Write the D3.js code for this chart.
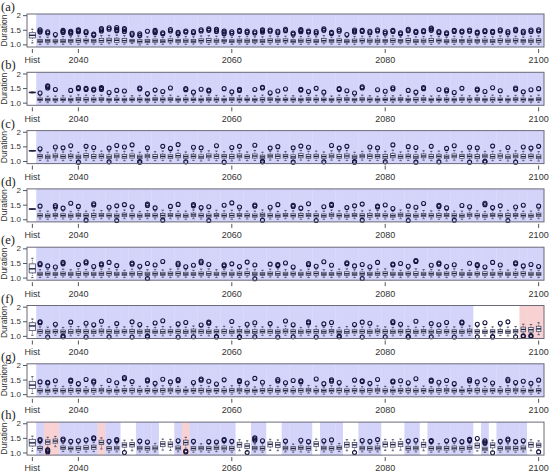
<!DOCTYPE html>
<html>
<head>
<meta charset="utf-8">
<script src="https://cdn.jsdelivr.net/npm/d3@7"></script>
<style>
  body { margin: 0; background: #fff; }
  svg text { font-family: "Liberation Sans", Arial, sans-serif; }
</style>
</head>
<body>
<div id="chart"></div>
<script>
// categories: historical reference + projection years
let years = d3.range(2035, 2101).map(String)
let categories = ["Hist"].concat(years)
let xTickLabels = ["Hist", "2040", "2060", "2080", "2100"]
let yTickValues = [1.0, 1.5, 2]
let panelNames = ["(a)", "(b)", "(c)", "(d)", "(e)", "(f)", "(g)", "(h)"]

// each row: [lower whisker, Q1, median, Q3, upper whisker, ...outliers]
let boxesA = [
  [1.05,1.22,1.31,1.40,1.52],
  [1.00,1.06,1.11,1.17,1.26,1.42,1.46,1.50],[1.01,1.07,1.12,1.17,1.25,1.39,1.43],[1.02,1.07,1.11,1.16,1.24,1.34],[1.00,1.06,1.11,1.17,1.27,1.41,1.45,1.48],[1.01,1.07,1.12,1.17,1.26,1.38,1.42,1.45],
  [1.00,1.07,1.13,1.19,1.29,1.43,1.47,1.50],[1.02,1.08,1.13,1.18,1.27,1.40,1.44],[1.01,1.07,1.12,1.17,1.24,1.31,1.35],[1.00,1.07,1.13,1.20,1.30,1.46,1.50,1.54],[1.02,1.08,1.14,1.21,1.31,1.52,1.57],
  [1.00,1.07,1.14,1.21,1.32,1.47,1.52,1.58],[1.01,1.07,1.13,1.20,1.30,1.44,1.50,1.54],[1.03,1.08,1.12,1.17,1.25,1.33,1.38],[0.98,1.05,1.10,1.16,1.24,1.30,1.36],[1.00,1.06,1.11,1.17,1.26,1.45],
  [1.01,1.07,1.12,1.18,1.27,1.40,1.44,1.48],[1.00,1.06,1.11,1.16,1.24,1.36,1.40],[1.02,1.08,1.13,1.19,1.28,1.46,1.51],[1.01,1.07,1.12,1.17,1.25,1.36,1.41],[1.00,1.07,1.12,1.18,1.27,1.42,1.46],
  [1.01,1.06,1.11,1.17,1.26,1.40,1.44],[1.02,1.08,1.13,1.19,1.29,1.46,1.50],[1.00,1.07,1.13,1.20,1.30,1.48,1.53],[1.01,1.07,1.12,1.18,1.28,1.44,1.49,1.52],[1.03,1.08,1.12,1.17,1.24,1.36,1.42,1.46],
  [1.00,1.06,1.11,1.16,1.25,1.38,1.43],[1.01,1.07,1.12,1.18,1.27,1.44,1.48],[1.00,1.06,1.12,1.18,1.28,1.41,1.46],[1.02,1.07,1.12,1.17,1.26,1.39,1.43],[1.00,1.06,1.11,1.17,1.26,1.42,1.47,1.50],
  [1.01,1.07,1.13,1.19,1.29,1.45,1.49],[1.00,1.07,1.12,1.18,1.27,1.40,1.45],[1.02,1.08,1.13,1.19,1.28,1.47,1.52],[1.01,1.06,1.11,1.16,1.24,1.35,1.39],[1.00,1.07,1.12,1.18,1.27,1.43,1.47,1.51],
  [1.01,1.07,1.13,1.19,1.28,1.42,1.46],[1.00,1.06,1.11,1.17,1.26,1.39,1.44],[1.02,1.08,1.13,1.20,1.30,1.48,1.53],[1.01,1.07,1.12,1.17,1.25,1.37,1.41],[1.00,1.07,1.13,1.19,1.29,1.45,1.50],
  [1.01,1.06,1.11,1.16,1.24,1.34],[1.00,1.07,1.12,1.18,1.27,1.42,1.46,1.49],[1.02,1.08,1.13,1.19,1.28,1.44,1.48],[1.01,1.07,1.12,1.18,1.27,1.40,1.45],[1.00,1.06,1.12,1.18,1.28,1.46,1.50],
  [1.01,1.07,1.12,1.17,1.26,1.38,1.43],[1.00,1.07,1.13,1.19,1.29,1.44,1.48],[1.02,1.07,1.12,1.17,1.25,1.36,1.40],[1.01,1.07,1.13,1.20,1.30,1.47,1.52],[1.00,1.06,1.11,1.17,1.26,1.41,1.45],
  [1.01,1.07,1.12,1.18,1.27,1.43,1.47],[1.00,1.07,1.13,1.20,1.30,1.48,1.53,1.56],[1.02,1.08,1.13,1.18,1.27,1.40,1.44],[1.01,1.06,1.11,1.16,1.24,1.36,1.40],[1.00,1.07,1.12,1.18,1.28,1.44,1.48],
  [1.01,1.07,1.12,1.17,1.26,1.42,1.46],[1.00,1.06,1.12,1.18,1.27,1.45,1.49],[1.02,1.07,1.12,1.17,1.25,1.38,1.42],[1.01,1.07,1.12,1.18,1.27,1.43,1.47],[1.00,1.06,1.11,1.17,1.26,1.41,1.45],
  [1.01,1.07,1.13,1.19,1.29,1.46,1.50],[1.00,1.07,1.12,1.18,1.27,1.39,1.44],[1.02,1.08,1.13,1.19,1.28,1.47,1.52],[1.01,1.07,1.12,1.17,1.25,1.40,1.45],[1.00,1.06,1.12,1.18,1.28,1.44,1.49],
  [1.01,1.07,1.13,1.19,1.29,1.46,1.50]
]

let boxesB = [
  [1.33,1.34,1.35,1.36,1.37],
  [1.02,1.07,1.11,1.16,1.24,1.33],[1.00,1.06,1.10,1.15,1.22,1.50,1.55,1.58],[1.01,1.06,1.10,1.15,1.23,1.45],[1.02,1.07,1.11,1.16,1.24],[1.00,1.06,1.10,1.15,1.23,1.42],
  [1.01,1.07,1.12,1.18,1.27,1.48,1.52],[1.00,1.06,1.11,1.17,1.26,1.45,1.49],[1.01,1.06,1.11,1.16,1.25,1.43,1.47],[1.02,1.07,1.12,1.17,1.26,1.45,1.49,1.52],[1.00,1.06,1.10,1.15,1.23,1.35],
  [1.01,1.07,1.11,1.16,1.24,1.42],[1.00,1.06,1.10,1.15,1.23,1.40],[1.02,1.07,1.11,1.16,1.24],[1.01,1.06,1.11,1.16,1.25,1.47,1.50],[1.00,1.06,1.10,1.15,1.22,1.31],
  [1.01,1.07,1.12,1.17,1.25,1.43],[1.00,1.06,1.11,1.16,1.24,1.38],[1.02,1.07,1.12,1.17,1.26,1.50],[1.01,1.06,1.10,1.15,1.22],[1.00,1.06,1.11,1.16,1.25,1.44,1.48],
  [1.01,1.07,1.11,1.16,1.24,1.36],[1.00,1.06,1.10,1.15,1.23,1.46],[1.02,1.07,1.12,1.17,1.26,1.40,1.43],[1.01,1.06,1.11,1.16,1.25],[1.00,1.06,1.10,1.15,1.23,1.48],
  [1.01,1.07,1.12,1.17,1.26,1.37],[1.00,1.06,1.11,1.16,1.24,1.42,1.46],[1.02,1.07,1.11,1.16,1.24],[1.01,1.06,1.10,1.15,1.23,1.45],[1.00,1.06,1.11,1.17,1.26,1.50,1.53],
  [1.01,1.07,1.12,1.17,1.25,1.34],[1.00,1.06,1.10,1.15,1.22,1.40],[1.02,1.07,1.11,1.16,1.25,1.47],[1.01,1.06,1.11,1.16,1.24],[1.00,1.06,1.10,1.15,1.23,1.43,1.46],
  [1.01,1.07,1.12,1.17,1.26,1.38],[1.00,1.06,1.11,1.16,1.25,1.49],[1.02,1.07,1.11,1.16,1.24,1.36],[1.01,1.06,1.10,1.15,1.23],[1.00,1.06,1.11,1.17,1.26,1.45,1.48],
  [1.01,1.07,1.12,1.17,1.25,1.41],[1.00,1.06,1.10,1.15,1.23,1.33],[1.02,1.07,1.12,1.17,1.26,1.50,1.54],[1.01,1.06,1.11,1.16,1.24],[1.00,1.06,1.10,1.15,1.22,1.44],
  [1.01,1.07,1.11,1.16,1.25,1.39],[1.00,1.06,1.11,1.16,1.24,1.47,1.51],[1.02,1.07,1.12,1.17,1.26],[1.01,1.06,1.10,1.15,1.23,1.42],[1.00,1.06,1.11,1.17,1.26,1.36],
  [1.01,1.07,1.12,1.17,1.25,1.48,1.52],[1.00,1.06,1.10,1.15,1.23],[1.02,1.07,1.11,1.16,1.24,1.45],[1.01,1.06,1.11,1.16,1.25,1.40,1.44],[1.00,1.06,1.10,1.15,1.22,1.35],
  [1.01,1.07,1.12,1.17,1.26,1.49],[1.00,1.06,1.11,1.16,1.24],[1.02,1.07,1.12,1.17,1.26,1.43,1.47],[1.01,1.06,1.10,1.15,1.23,1.38],[1.00,1.06,1.11,1.17,1.26,1.51],
  [1.01,1.07,1.11,1.16,1.24,1.41],[1.00,1.06,1.10,1.15,1.23],[1.02,1.07,1.12,1.17,1.25,1.46,1.50],[1.01,1.06,1.11,1.16,1.24,1.37],[1.00,1.06,1.10,1.15,1.23,1.44],
  [1.01,1.07,1.12,1.17,1.26,1.48]
]

let boxesC = [
  [1.34,1.35,1.35,1.36,1.36],
  [1.02,1.10,1.16,1.22,1.32,1.42],[1.00,1.08,1.14,1.20,1.30],[1.03,1.11,1.17,1.24,1.35,1.48],[1.01,1.09,1.15,1.21,1.31,1.45],[1.02,1.10,1.16,1.23,1.34,1.52],
  [1.00,1.08,1.14,1.20,1.30,0.96],[1.03,1.11,1.18,1.25,1.36,1.50],[1.01,1.09,1.15,1.22,1.33,1.46],[1.02,1.10,1.16,1.23,1.34],[1.00,1.08,1.14,1.21,1.32,1.44,0.97],
  [1.03,1.11,1.17,1.24,1.35,1.53],[1.01,1.09,1.15,1.22,1.33,1.48],[1.02,1.10,1.17,1.24,1.36,1.55],[1.00,1.08,1.14,1.20,1.30,0.96,0.98],[1.03,1.11,1.17,1.23,1.33,1.45],
  [1.01,1.09,1.15,1.22,1.32],[1.02,1.10,1.16,1.23,1.34,1.50],[1.00,1.09,1.15,1.21,1.31,1.43],[1.03,1.11,1.18,1.25,1.37,1.56],[1.01,1.09,1.15,1.21,1.31,0.97],
  [1.02,1.10,1.16,1.23,1.34,1.47],[1.00,1.08,1.14,1.21,1.32,1.45],[1.03,1.11,1.17,1.24,1.35],[1.01,1.09,1.16,1.23,1.34,1.52],[1.02,1.10,1.16,1.22,1.32,0.96],
  [1.00,1.08,1.15,1.22,1.33,1.46],[1.03,1.11,1.17,1.24,1.35,1.50],[1.01,1.09,1.15,1.21,1.31],[1.02,1.10,1.17,1.24,1.36,1.54],[1.00,1.08,1.14,1.20,1.30,0.97,0.99],
  [1.03,1.11,1.17,1.23,1.33,1.44],[1.01,1.09,1.16,1.23,1.34,1.49],[1.02,1.10,1.16,1.22,1.32],[1.00,1.08,1.14,1.21,1.32,1.45,0.96],[1.03,1.11,1.18,1.25,1.36,1.51],
  [1.01,1.09,1.15,1.22,1.33,1.47],[1.02,1.10,1.16,1.23,1.34],[1.00,1.09,1.15,1.21,1.31,0.97],[1.03,1.11,1.17,1.24,1.35,1.53],[1.01,1.09,1.15,1.22,1.32,1.44],
  [1.02,1.10,1.17,1.24,1.36,1.50],[1.00,1.08,1.14,1.20,1.30,0.96,0.98],[1.03,1.11,1.17,1.23,1.33],[1.01,1.09,1.16,1.23,1.34,1.48],[1.02,1.10,1.16,1.22,1.32,1.45],
  [1.00,1.08,1.15,1.22,1.33,0.97],[1.03,1.11,1.18,1.25,1.37,1.55],[1.01,1.09,1.15,1.21,1.31],[1.02,1.10,1.16,1.23,1.34,1.49],[1.00,1.08,1.14,1.21,1.32,1.46,0.96],
  [1.03,1.11,1.17,1.24,1.35],[1.01,1.09,1.15,1.22,1.33,1.50],[1.02,1.10,1.16,1.23,1.34,0.97],[1.00,1.08,1.14,1.20,1.30,1.43],[1.03,1.11,1.17,1.24,1.36,1.52],
  [1.01,1.09,1.16,1.22,1.32],[1.02,1.10,1.16,1.23,1.34,1.47,0.96],[1.00,1.08,1.15,1.22,1.33,1.45],[1.03,1.11,1.17,1.23,1.33,0.97,0.99],[1.01,1.09,1.15,1.22,1.33,1.51],
  [1.02,1.10,1.17,1.24,1.35],[1.00,1.08,1.14,1.21,1.32,1.46],[1.03,1.11,1.17,1.24,1.35,0.96],[1.01,1.09,1.15,1.22,1.33,1.48],[1.02,1.10,1.16,1.23,1.34,1.44],
  [1.00,1.08,1.14,1.21,1.32,1.50]
]

let boxesD = [
  [1.34,1.35,1.35,1.36,1.36],
  [1.01,1.08,1.13,1.19,1.29,1.45],[1.00,1.07,1.12,1.18,1.28],[1.02,1.09,1.14,1.20,1.30,1.42,1.47],[1.01,1.08,1.13,1.19,1.29,1.38],[1.00,1.07,1.12,1.18,1.27,1.55],
  [1.02,1.09,1.14,1.20,1.31,1.44],[1.01,1.08,1.13,1.19,1.28,0.97],[1.00,1.07,1.13,1.20,1.31,1.49,1.53],[1.02,1.09,1.14,1.20,1.30],[1.01,1.08,1.13,1.19,1.29,1.41],
  [1.00,1.07,1.12,1.18,1.28,1.46,0.96],[1.02,1.09,1.15,1.21,1.32,1.50],[1.01,1.08,1.13,1.19,1.29,1.43],[1.00,1.07,1.12,1.18,1.27],[1.02,1.09,1.14,1.20,1.30,1.47,1.52],
  [1.01,1.08,1.13,1.19,1.29,1.39],[1.00,1.07,1.13,1.20,1.31,0.97],[1.02,1.09,1.14,1.20,1.30,1.44],[1.01,1.08,1.13,1.19,1.28,1.51],[1.00,1.07,1.12,1.18,1.28],
  [1.02,1.09,1.15,1.21,1.32,1.46,1.50],[1.01,1.08,1.13,1.19,1.29,1.40],[1.00,1.07,1.12,1.18,1.27,1.43,0.96],[1.02,1.09,1.14,1.20,1.31],[1.01,1.08,1.13,1.19,1.29,1.48],
  [1.00,1.07,1.13,1.20,1.31,1.56],[1.02,1.09,1.14,1.20,1.30,1.42],[1.01,1.08,1.13,1.19,1.28],[1.00,1.07,1.12,1.18,1.28,1.45,1.49],[1.02,1.09,1.15,1.21,1.32,0.97],
  [1.01,1.08,1.13,1.19,1.29,1.41],[1.00,1.07,1.12,1.18,1.27,1.50],[1.02,1.09,1.14,1.20,1.30],[1.01,1.08,1.13,1.19,1.29,1.44,1.48],[1.00,1.07,1.13,1.20,1.31,1.38],
  [1.02,1.09,1.14,1.20,1.30,1.53],[1.01,1.08,1.13,1.19,1.28,0.96],[1.00,1.07,1.12,1.18,1.28,1.43],[1.02,1.09,1.15,1.21,1.32,1.47,1.51],[1.01,1.08,1.13,1.19,1.29],
  [1.00,1.07,1.12,1.18,1.27,1.40],[1.02,1.09,1.14,1.20,1.31,1.46],[1.01,1.08,1.13,1.19,1.29,1.52,0.97],[1.00,1.07,1.13,1.20,1.31],[1.02,1.09,1.14,1.20,1.30,1.42,1.45],
  [1.01,1.08,1.13,1.19,1.28,1.49],[1.00,1.07,1.12,1.18,1.28,1.37],[1.02,1.09,1.15,1.21,1.32],[1.01,1.08,1.13,1.19,1.29,1.45,0.96],[1.00,1.07,1.12,1.18,1.27,1.41],
  [1.02,1.09,1.14,1.20,1.30,1.54],[1.01,1.08,1.13,1.19,1.29],[1.00,1.07,1.13,1.20,1.31,1.44,1.48],[1.02,1.09,1.14,1.20,1.30,1.39],[1.01,1.08,1.13,1.19,1.28,0.97],
  [1.00,1.07,1.12,1.18,1.28,1.47],[1.02,1.09,1.15,1.21,1.32,1.43],[1.01,1.08,1.13,1.19,1.29],[1.00,1.07,1.12,1.18,1.27,1.50,1.55],[1.02,1.09,1.14,1.20,1.31,1.40],
  [1.01,1.08,1.13,1.19,1.29,1.46],[1.00,1.07,1.13,1.20,1.31,0.96],[1.02,1.09,1.14,1.20,1.30,1.42],[1.01,1.08,1.13,1.19,1.28,1.48],[1.00,1.07,1.12,1.18,1.28],
  [1.02,1.09,1.15,1.21,1.32,1.45]
]

let boxesE = [
  [1.00,1.16,1.30,1.47,1.66],
  [1.00,1.07,1.12,1.18,1.27,1.44,1.48],[1.01,1.08,1.13,1.19,1.28,1.40],[1.00,1.07,1.12,1.17,1.25,1.36],[1.02,1.08,1.13,1.19,1.29,1.47,1.52],[1.01,1.07,1.12,1.18,1.27],
  [1.00,1.07,1.13,1.20,1.30,1.45],[1.02,1.08,1.13,1.19,1.28,1.50,1.54],[1.01,1.07,1.12,1.18,1.26,1.38],[1.00,1.07,1.13,1.19,1.29,1.43,1.47],[1.02,1.08,1.14,1.20,1.30,1.52],
  [1.01,1.07,1.12,1.18,1.27,1.41],[1.00,1.07,1.12,1.17,1.25],[1.02,1.08,1.13,1.19,1.29,1.46,1.50],[1.01,1.07,1.13,1.20,1.30,1.39],[1.00,1.07,1.12,1.18,1.27,1.48,0.97],
  [1.02,1.08,1.13,1.19,1.28,1.43],[1.01,1.07,1.12,1.18,1.26,1.55],[1.00,1.07,1.13,1.19,1.29],[1.02,1.08,1.14,1.20,1.30,1.44,1.49],[1.01,1.07,1.12,1.18,1.27,1.37],
  [1.00,1.07,1.12,1.17,1.25,1.42],[1.02,1.08,1.13,1.19,1.29,1.51,1.56],[1.01,1.07,1.13,1.20,1.30,1.45],[1.00,1.07,1.12,1.18,1.27],[1.02,1.08,1.13,1.19,1.28,1.40,1.44],
  [1.01,1.07,1.12,1.18,1.26,1.47],[1.00,1.07,1.13,1.19,1.29,1.38],[1.02,1.08,1.14,1.20,1.30,1.53],[1.01,1.07,1.12,1.18,1.27,1.43,0.96],[1.00,1.07,1.12,1.17,1.25],
  [1.02,1.08,1.13,1.19,1.29,1.46],[1.01,1.07,1.13,1.20,1.30,1.41,1.45],[1.00,1.07,1.12,1.18,1.27,1.50],[1.02,1.08,1.13,1.19,1.28,1.36],[1.01,1.07,1.12,1.18,1.26],
  [1.00,1.07,1.13,1.19,1.29,1.44,1.48],[1.02,1.08,1.14,1.20,1.30,1.39],[1.01,1.07,1.12,1.18,1.27,1.54],[1.00,1.07,1.12,1.17,1.25,1.42],[1.02,1.08,1.13,1.19,1.29],
  [1.01,1.07,1.13,1.20,1.30,1.47,1.51],[1.00,1.07,1.12,1.18,1.27,1.40],[1.02,1.08,1.13,1.19,1.28,1.45,0.97],[1.01,1.07,1.12,1.18,1.26,1.37],[1.00,1.07,1.13,1.19,1.29,1.52],
  [1.02,1.08,1.14,1.20,1.30],[1.01,1.07,1.12,1.18,1.27,1.43,1.46],[1.00,1.07,1.12,1.17,1.25,1.48],[1.02,1.08,1.13,1.19,1.29,1.39],[1.01,1.07,1.13,1.20,1.30,1.55,1.58],
  [1.00,1.07,1.12,1.18,1.27],[1.02,1.08,1.13,1.19,1.28,1.42],[1.01,1.07,1.12,1.18,1.26,1.46,1.50],[1.00,1.07,1.13,1.19,1.29,1.38],[1.02,1.08,1.14,1.20,1.30,1.44],
  [1.01,1.07,1.12,1.18,1.27],[1.00,1.07,1.12,1.17,1.25,1.49],[1.02,1.08,1.13,1.19,1.29,1.41,1.45],[1.01,1.07,1.13,1.20,1.30,1.36],[1.00,1.07,1.12,1.18,1.27,1.52],
  [1.02,1.08,1.13,1.19,1.28,1.43],[1.01,1.07,1.12,1.18,1.26],[1.00,1.07,1.13,1.19,1.29,1.47,1.51],[1.02,1.08,1.14,1.20,1.30,1.40],[1.01,1.07,1.12,1.18,1.27,1.45],
  [1.00,1.07,1.12,1.17,1.25,1.38]
]

let boxesF = [
  [1.02,1.18,1.34,1.45,1.58],
  [1.01,1.09,1.15,1.21,1.31,1.45,1.48],[1.00,1.08,1.14,1.20,1.30,0.96],[1.02,1.10,1.15,1.21,1.31,1.40],[1.01,1.09,1.14,1.20,1.29,0.97,0.99],[1.00,1.08,1.14,1.21,1.32,1.47],
  [1.02,1.10,1.16,1.22,1.32],[1.01,1.09,1.15,1.21,1.31,1.43,0.96],[1.00,1.08,1.14,1.20,1.30,1.38],[1.02,1.10,1.16,1.23,1.34,1.50],[1.01,1.09,1.15,1.21,1.31,0.97],
  [1.00,1.08,1.14,1.20,1.29,1.42],[1.02,1.10,1.15,1.21,1.31],[1.01,1.09,1.15,1.22,1.33,1.48,0.96],[1.00,1.08,1.14,1.20,1.30,1.39],[1.02,1.10,1.16,1.22,1.32,0.97,0.99],
  [1.01,1.09,1.14,1.20,1.29,1.44],[1.00,1.08,1.14,1.21,1.32,1.52],[1.02,1.10,1.15,1.21,1.31],[1.01,1.09,1.15,1.21,1.31,1.41,0.96],[1.00,1.08,1.14,1.20,1.30,1.46],
  [1.02,1.10,1.16,1.23,1.34,0.97],[1.01,1.09,1.15,1.21,1.31,1.37],[1.00,1.08,1.14,1.20,1.29,1.43,1.47],[1.02,1.10,1.15,1.21,1.31,0.96,0.98],[1.01,1.09,1.15,1.22,1.33],
  [1.00,1.08,1.14,1.20,1.30,1.49],[1.02,1.10,1.16,1.22,1.32,0.95,0.97],[1.01,1.09,1.14,1.20,1.29,1.40],[1.00,1.08,1.14,1.21,1.32,1.45,0.97],[1.02,1.10,1.15,1.21,1.31],
  [1.01,1.09,1.15,1.21,1.31,1.42],[1.00,1.08,1.14,1.20,1.30,0.96],[1.02,1.10,1.16,1.23,1.34,1.51],[1.01,1.09,1.15,1.21,1.31,1.38,0.97],[1.00,1.08,1.14,1.20,1.29],
  [1.02,1.10,1.15,1.21,1.31,1.44,1.48],[1.01,1.09,1.15,1.22,1.33,0.96],[1.00,1.08,1.14,1.20,1.30,1.41],[1.02,1.10,1.16,1.22,1.32,1.46],[1.01,1.09,1.14,1.20,1.29,0.97,0.99],
  [1.00,1.08,1.14,1.21,1.32],[1.02,1.10,1.15,1.21,1.31,1.39],[1.01,1.09,1.15,1.21,1.31,1.47,0.96],[1.00,1.08,1.14,1.20,1.30,1.43],[1.02,1.10,1.16,1.23,1.34],
  [1.01,1.09,1.15,1.21,1.31,0.97],[1.00,1.08,1.14,1.20,1.29,1.45,1.49],[1.02,1.10,1.15,1.21,1.31,1.40],[1.01,1.09,1.15,1.22,1.33,0.96,0.98],[1.00,1.08,1.14,1.20,1.30,1.50],
  [1.02,1.10,1.16,1.22,1.32],[1.01,1.09,1.14,1.20,1.29,1.42,0.97],[1.00,1.08,1.14,1.21,1.32,1.38],[1.02,1.10,1.15,1.21,1.31,1.46],[1.01,1.09,1.15,1.21,1.31,0.96],
  [1.00,1.08,1.14,1.20,1.30,1.44,1.47],[1.02,1.10,1.16,1.23,1.34],[1.01,1.09,1.15,1.21,1.31,1.40,0.97],[1.00,1.08,1.14,1.20,1.29,1.45],[1.02,1.10,1.15,1.21,1.31,0.96,0.98],
  [1.01,1.09,1.15,1.22,1.33,1.43],[1.00,1.08,1.14,1.20,1.30,1.48],[1.02,1.10,1.16,1.22,1.32,0.97],[1.04,1.14,1.22,1.30,1.40,0.98,1.00],[1.03,1.13,1.21,1.29,1.39,0.98,1.01],
  [1.04,1.15,1.24,1.33,1.45]
]

let boxesG = [
  [1.02,1.19,1.31,1.44,1.60],
  [1.01,1.07,1.12,1.18,1.27,1.42],[1.00,1.07,1.12,1.17,1.25,1.38,1.41],[1.02,1.08,1.13,1.19,1.29,1.46],[1.01,1.07,1.12,1.18,1.27],[1.00,1.07,1.13,1.20,1.30,1.44,1.48],
  [1.02,1.08,1.13,1.19,1.28,1.36],[1.01,1.07,1.12,1.18,1.26,1.50],[1.00,1.07,1.13,1.19,1.29,1.41,1.45],[1.02,1.08,1.14,1.20,1.30],[1.01,1.07,1.12,1.18,1.27,1.47],
  [1.00,1.07,1.12,1.17,1.25,1.39],[1.02,1.08,1.13,1.19,1.29,1.53,1.57],[1.01,1.07,1.13,1.20,1.30,1.43],[1.00,1.07,1.12,1.18,1.27],[1.02,1.08,1.13,1.19,1.28,1.45,1.49],
  [1.01,1.07,1.12,1.18,1.26,1.37],[1.00,1.07,1.13,1.19,1.29,1.51],[1.02,1.08,1.14,1.20,1.30,1.42],[1.01,1.07,1.12,1.18,1.27,1.46,1.50],[1.00,1.07,1.12,1.17,1.25],
  [1.02,1.08,1.13,1.19,1.29,1.40],[1.01,1.07,1.13,1.20,1.30,1.48,1.52],[1.00,1.07,1.12,1.18,1.27,1.44],[1.02,1.08,1.13,1.19,1.28,1.35],[1.01,1.07,1.12,1.18,1.26,1.49],
  [1.00,1.07,1.13,1.19,1.29],[1.02,1.08,1.14,1.20,1.30,1.43,1.47],[1.01,1.07,1.12,1.18,1.27,1.38],[1.00,1.07,1.12,1.17,1.25,1.54],[1.02,1.08,1.13,1.19,1.29,1.41],
  [1.01,1.07,1.13,1.20,1.30],[1.00,1.07,1.12,1.18,1.27,1.45,1.50],[1.02,1.08,1.13,1.19,1.28,1.39],[1.01,1.07,1.12,1.18,1.26,1.47],[1.00,1.07,1.13,1.19,1.29,1.42,1.46],
  [1.02,1.08,1.14,1.20,1.30],[1.01,1.07,1.12,1.18,1.27,1.52],[1.00,1.07,1.12,1.17,1.25,1.36],[1.02,1.08,1.13,1.19,1.29,1.44,1.49],[1.01,1.07,1.13,1.20,1.30,1.40],
  [1.00,1.07,1.12,1.18,1.27],[1.02,1.08,1.13,1.19,1.28,1.48],[1.01,1.07,1.12,1.18,1.26,1.43,1.46],[1.00,1.07,1.13,1.19,1.29,1.37],[1.02,1.08,1.14,1.20,1.30,1.50],
  [1.01,1.07,1.12,1.18,1.27],[1.00,1.07,1.12,1.17,1.25,1.42,1.45],[1.02,1.08,1.13,1.19,1.29,1.46],[1.01,1.07,1.13,1.20,1.30,1.39],[1.00,1.07,1.12,1.18,1.27,1.53],
  [1.02,1.08,1.13,1.19,1.28],[1.01,1.07,1.12,1.18,1.26,1.44,1.48],[1.00,1.07,1.13,1.19,1.29,1.41],[1.02,1.08,1.14,1.20,1.30,1.47],[1.01,1.07,1.12,1.18,1.27,1.36],
  [1.00,1.07,1.12,1.17,1.25],[1.02,1.08,1.13,1.19,1.29,1.45,1.50],[1.01,1.07,1.13,1.20,1.30,1.42],[1.00,1.07,1.12,1.18,1.27,1.49],[1.02,1.08,1.13,1.19,1.28,1.38],
  [1.01,1.07,1.12,1.18,1.26],[1.00,1.07,1.13,1.19,1.29,1.46,1.51],[1.02,1.08,1.14,1.20,1.30,1.40],[1.01,1.07,1.12,1.18,1.27,1.44],[1.00,1.07,1.12,1.17,1.25,1.37],
  [1.02,1.08,1.13,1.19,1.29,1.48]
]

let boxesH = [
  [1.05,1.22,1.33,1.45,1.56],
  [1.01,1.08,1.14,1.21,1.31,1.40,1.44],[1.15,1.28,1.36,1.43,1.52,1.02,1.06,1.09],[1.20,1.32,1.39,1.46,1.55],[1.03,1.10,1.16,1.22,1.31,1.42,1.46],[1.02,1.09,1.14,1.19,1.28,1.38],
  [1.00,1.08,1.14,1.21,1.30,1.40],[1.02,1.10,1.16,1.23,1.33,1.43],[1.03,1.11,1.18,1.25,1.35,1.47,1.50],[1.12,1.27,1.34,1.42,1.50],[1.01,1.08,1.14,1.20,1.29,1.38],
  [1.02,1.09,1.15,1.21,1.30,1.40,1.44],[1.05,1.18,1.26,1.33,1.42,1.00],[1.06,1.19,1.27,1.34,1.43],[1.02,1.09,1.15,1.21,1.30,1.39],[1.01,1.08,1.14,1.20,1.29,1.36],
  [1.02,1.09,1.15,1.22,1.31],[1.08,1.20,1.29,1.37,1.46],[1.07,1.19,1.28,1.36,1.45],[1.02,1.09,1.15,1.22,1.31,1.40],[1.10,1.26,1.34,1.42,1.52,1.02,1.05],
  [1.01,1.08,1.14,1.20,1.29,1.38],[1.02,1.09,1.15,1.21,1.30],[1.01,1.08,1.14,1.20,1.29,1.37],[1.03,1.10,1.16,1.22,1.31,1.36],[1.02,1.09,1.15,1.22,1.32,1.41,1.44],
  [1.01,1.08,1.14,1.21,1.30,1.38],[1.06,1.18,1.27,1.35,1.44],[1.04,1.14,1.22,1.30,1.40,1.00],[1.02,1.09,1.15,1.21,1.30,1.42,1.46,1.50],[1.01,1.08,1.14,1.21,1.31,1.40],
  [1.07,1.19,1.28,1.36,1.45],[1.06,1.17,1.26,1.34,1.43],[1.02,1.09,1.15,1.21,1.30,1.39],[1.01,1.08,1.14,1.20,1.29],[1.02,1.10,1.16,1.22,1.31,1.42],
  [1.01,1.08,1.14,1.21,1.30,1.37],[1.07,1.20,1.29,1.37,1.46],[1.02,1.09,1.15,1.21,1.30,1.40],[1.01,1.08,1.14,1.20,1.29,1.43],[1.03,1.10,1.16,1.22,1.31],
  [1.06,1.18,1.27,1.35,1.44],[1.05,1.17,1.26,1.34,1.43,1.00],[1.02,1.09,1.15,1.21,1.30,1.41],[1.01,1.08,1.14,1.20,1.29,1.38],[1.02,1.09,1.15,1.22,1.31,1.44],
  [1.07,1.19,1.28,1.36,1.45],[1.06,1.18,1.27,1.35,1.44],[1.08,1.20,1.29,1.37,1.46],[1.01,1.08,1.14,1.21,1.30,1.39],[1.02,1.09,1.15,1.21,1.30,1.42],
  [1.06,1.18,1.27,1.35,1.44],[1.01,1.08,1.14,1.20,1.29,1.38,1.41],[1.02,1.09,1.15,1.21,1.30],[1.01,1.08,1.14,1.21,1.31,1.40],[1.02,1.09,1.15,1.22,1.31,1.43],
  [1.01,1.08,1.14,1.20,1.29,1.37],[1.02,1.10,1.16,1.22,1.31,1.41,1.45],[1.05,1.15,1.24,1.32,1.41,1.48],[1.00,1.06,1.12,1.18,1.26,1.32,1.36,1.40],[1.04,1.16,1.25,1.33,1.42,0.99],
  [1.01,1.08,1.14,1.20,1.29,1.38],[1.02,1.09,1.15,1.21,1.30,1.42,1.46],[1.01,1.08,1.14,1.21,1.30,1.37],[1.02,1.09,1.15,1.22,1.31,1.40],[1.06,1.18,1.27,1.35,1.44],
  [1.08,1.18,1.25,1.32,1.40,1.02]
]

// trend class per category: "b" significant decrease, "r" significant increase, "w" none
let trendAll = "wbbbbbbbbb" + "bbbbbbbbbb" + "bbbbbbbbbb" + "bbbbbbbbbb" + "bbbbbbbbbb" + "bbbbbbbbbb" + "bbbbbbb"
let trendF   = "wbbbbbbbbb" + "bbbbbbbbbb" + "bbbbbbbbbb" + "bbbbbbbbbb" + "bbbbbbbbbb" + "bbbbbbbbww" + "wwwwrrr"
let trendH   = "wbrrbbbbbr" + "bbwwbbbwwb" + "rbbbbbbwwb" + "bwwbbbbwbb" + "bwwbbbwwwb" + "bwbbbbbbwb" + "wbbbbww"

let panelBoxes = [boxesA, boxesB, boxesC, boxesD, boxesE, boxesF, boxesG, boxesH]
let panelTrends = [trendAll, trendAll, trendAll, trendAll, trendAll, trendF, trendAll, trendH]

let trendColor = { b: "#d4d4fa", r: "#f8d2d2", w: "#ffffff" }

let width = 550, height = 473
let plotLeft = 27, plotRight = 544
let firstTop = 14, panelStep = 58.3, plotH = 33

let svg = d3.select("#chart")
    .append("svg")
    .attr("width", width)
    .attr("height", height)

let xScale = d3.scaleBand()
    .domain(categories)
    .range([plotLeft, plotRight])
    .paddingInner(0)
    .paddingOuter(0.2)

let bw = xScale.bandwidth()

panelBoxes.forEach((rows, p) => {

    let top = firstTop + p * panelStep
    let yScale = d3.scaleLinear()
        .domain([0.91, 2.04])
        .range([top + plotH, top])

    let g = svg.append("g")

    // background bands
    g.selectAll("rect.bg")
        .data(categories)
        .enter()
        .append("rect")
        .attr("x", (d, i) => i === 0 ? plotLeft : xScale(d))
        .attr("width", (d, i) => i === categories.length - 1 ? plotRight - xScale(d) : (i === 0 ? xScale(d) + bw - plotLeft : bw + 0.3))
        .attr("y", top)
        .attr("height", plotH)
        .style("fill", (d, i) => trendColor[panelTrends[p][i]])

    // boxes
    let bx = g.selectAll("g.box")
        .data(rows)
        .enter()
        .append("g")
        .attr("transform", (d, i) => "translate(" + (xScale(categories[i]) + bw / 2) + ",0)")

    let halfW = (d, i) => i === 0 ? 3.2 : 2.3

    bx.append("line")
        .attr("y1", d => yScale(d[4])).attr("y2", d => yScale(d[3]))
        .style("stroke", "#3c3c5c").style("stroke-width", 0.8).style("stroke-dasharray", "1,1")
    bx.append("line")
        .attr("y1", d => yScale(d[1])).attr("y2", d => yScale(d[0]))
        .style("stroke", "#3c3c5c").style("stroke-width", 0.8).style("stroke-dasharray", "1,1")
    bx.append("line")
        .attr("x1", -1.2).attr("x2", 1.2)
        .attr("y1", d => yScale(d[4])).attr("y2", d => yScale(d[4]))
        .style("stroke", "#3c3c5c").style("stroke-width", 0.8)
    bx.append("line")
        .attr("x1", -1.2).attr("x2", 1.2)
        .attr("y1", d => yScale(d[0])).attr("y2", d => yScale(d[0]))
        .style("stroke", "#3c3c5c").style("stroke-width", 0.8)
    bx.append("rect")
        .attr("x", (d, i) => -halfW(d, i))
        .attr("width", (d, i) => 2 * halfW(d, i))
        .attr("y", d => yScale(d[3]))
        .attr("height", d => Math.max(0.6, yScale(d[1]) - yScale(d[3])))
        .style("fill", "#f4f4fc")
        .style("stroke", "#4a4a68")
        .style("stroke-width", 0.8)
    bx.append("line")
        .attr("x1", (d, i) => -halfW(d, i)).attr("x2", (d, i) => halfW(d, i))
        .attr("y1", d => yScale(d[2])).attr("y2", d => yScale(d[2]))
        .style("stroke", "#20203c").style("stroke-width", 1.4)
    bx.selectAll("circle")
        .data(d => d.slice(5))
        .enter()
        .append("circle")
        .attr("cx", 0)
        .attr("cy", v => yScale(v))
        .attr("r", 2)
        .style("fill", "none")
        .style("stroke", "#141440")
        .style("stroke-width", 1.1)

    // frame
    g.append("rect")
        .attr("x", plotLeft).attr("y", top)
        .attr("width", plotRight - plotLeft).attr("height", plotH)
        .style("fill", "none").style("stroke", "#6a6a7a").style("stroke-width", 1)

    // y axis
    let yAxis = g.append("g")
        .attr("transform", "translate(" + plotLeft + ",0)")
        .call(d3.axisLeft(yScale).tickValues(yTickValues).tickSize(4).tickPadding(2)
            .tickFormat(d => d === 2 ? "2" : d3.format(".1f")(d)))
    yAxis.select(".domain").remove()
    yAxis.selectAll("line").style("stroke", "#555")
    yAxis.selectAll("text").style("font-size", "8px").style("fill", "#333")

    // x axis
    let xAxis = g.append("g")
        .attr("transform", "translate(0," + (top + plotH + 2) + ")")
        .call(d3.axisBottom(xScale).tickValues(xTickLabels).tickSize(4).tickPadding(4))
    xAxis.select(".domain").remove()
    xAxis.selectAll("line").style("stroke", "#555")
    xAxis.selectAll("text").style("font-size", "9px").style("fill", "#333")

    // labels
    g.append("text")
        .attr("transform", "translate(7," + (top + plotH / 2) + ") rotate(-90)")
        .attr("text-anchor", "middle")
        .style("font-size", "8.5px")
        .style("fill", "#333")
        .text("Duration")

    g.append("text")
        .attr("x", 1)
        .attr("y", top - 3)
        .style("font-family", "'Liberation Serif', 'Times New Roman', serif")
        .style("font-size", "12.5px")
        .style("fill", "#222")
        .text(panelNames[p])
})
</script>
</body>
</html>
